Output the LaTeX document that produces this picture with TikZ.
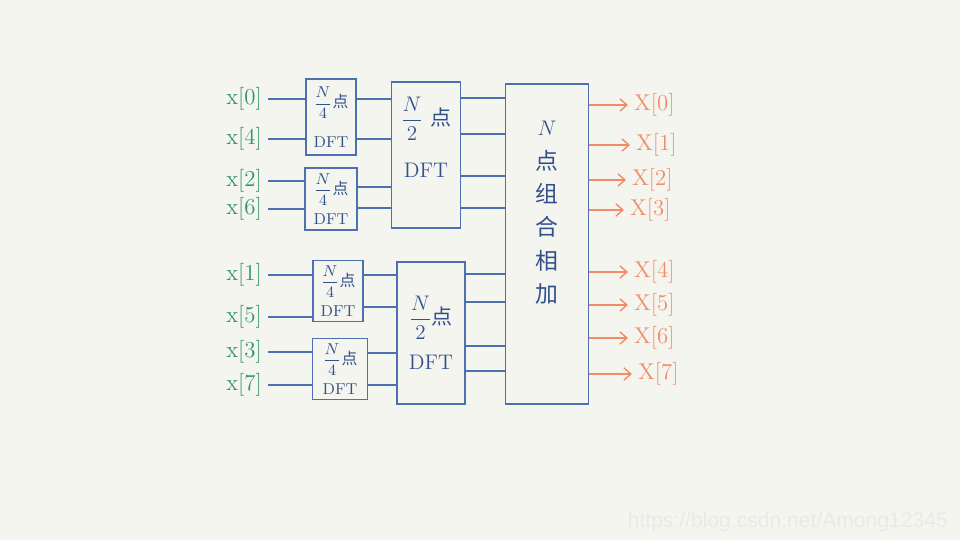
\documentclass[tikz,border=0pt]{standalone}
\usepackage{amsmath}
\usepackage{fontspec}
\newfontfamily\cjk{Noto Sans CJK SC}
\newfontfamily\wmfont{Liberation Sans}
\usepackage{xcolor}
\usetikzlibrary{positioning, arrows.meta, calc}

\definecolor{paper}{RGB}{245,245,240}
\definecolor{penblue}{RGB}{78,112,178}
\definecolor{inkblue}{RGB}{50,80,140}
\definecolor{pengreen}{RGB}{48,150,92}
\definecolor{penorange}{RGB}{240,140,104}
\definecolor{markgray}{RGB}{233,233,229}

\begin{document}
\begin{tikzpicture}[x=0.02cm, y=-0.02cm,
    box/.style={draw=penblue, line width=0.9pt, text=inkblue, align=center, inner sep=0pt},
    smallbox/.style={box, font=\fontsize{9}{10}\selectfont},
    halfbox/.style={box, font=\fontsize{12}{14}\selectfont},
    wire/.style={draw=penblue, line width=0.8pt},
    inlabel/.style={text=pengreen, anchor=east, font=\fontsize{13}{15}\selectfont},
    outlabel/.style={text=penorange, anchor=west, font=\fontsize{13}{15}\selectfont},
    outarrow/.style={draw=penorange, line width=0.8pt, -{Straight Barb[length=4pt, width=7pt]}}]

    % page and margins
    \fill[paper] (0,0) rectangle (960,540);

    % N/4-point DFTs
    \node [smallbox, minimum width=1cm, minimum height=1.52cm] (q1) at (331,117) {$\dfrac{N}{4}${\cjk 点}\\[9pt]DFT};
    \node [smallbox, minimum width=1.04cm, minimum height=1.24cm] (q2) at (331,199) {$\dfrac{N}{4}${\cjk 点}\\[4pt]DFT};
    \node [smallbox, minimum width=1cm, minimum height=1.22cm] (q3) at (338,291) {$\dfrac{N}{4}${\cjk 点}\\[4pt]DFT};
    \node [smallbox, minimum width=1.1cm, minimum height=1.22cm] (q4) at (340,369) {$\dfrac{N}{4}${\cjk 点}\\[4pt]DFT};

    % N/2-point DFTs
    \node [halfbox, minimum width=1.38cm, minimum height=2.92cm] (h1) at (426,155) {$\dfrac{N}{2}$ {\cjk 点}\\[12pt]DFT\\[6pt]\mbox{}};
    \node [halfbox, minimum width=1.36cm, minimum height=2.84cm] (h2) at (431,333) {$\dfrac{N}{2}${\cjk 点}\\[8pt]DFT};

    % N-point combine
    \node [box, minimum width=1.66cm, minimum height=6.4cm] (comb) at (547,244) {};
    \node [text=inkblue, align=center, font=\fontsize{13}{19}\selectfont, below=0.64cm of comb.north] (combtext) {$N$\\{\cjk 点}\\{\cjk 组}\\{\cjk 合}\\{\cjk 相}\\{\cjk 加}};

    % inputs
    \node [inlabel] (x0) at (268,99) {x[0]};
    \node [inlabel] (x4) at (268,139) {x[4]};
    \node [inlabel] (x2) at (268,181) {x[2]};
    \node [inlabel] (x6) at (268,209) {x[6]};
    \node [inlabel] (x1) at (268,275) {x[1]};
    \node [inlabel] (x5) at (268,317) {x[5]};
    \node [inlabel] (x3) at (268,352) {x[3]};
    \node [inlabel] (x7) at (268,385) {x[7]};
    \draw [wire] (x0.east) -- (x0.east -| q1.west);
    \draw [wire] (x4.east) -- (x4.east -| q1.west);
    \draw [wire] (x2.east) -- (x2.east -| q2.west);
    \draw [wire] (x6.east) -- (x6.east -| q2.west);
    \draw [wire] (x1.east) -- (x1.east -| q3.west);
    \draw [wire] (x5.east) -- (x5.east -| q3.west);
    \draw [wire] (x3.east) -- (x3.east -| q4.west);
    \draw [wire] (x7.east) -- (x7.east -| q4.west);

    % N/4 -> N/2
    \draw [wire] (q1.east |- x0) -- (h1.west |- x0);
    \draw [wire] (q1.east |- x4) -- (h1.west |- x4);
    \draw [wire] (q2.east |- 0,187) -- (h1.west |- 0,187);
    \draw [wire] (q2.east |- 0,208) -- (h1.west |- 0,208);
    \draw [wire] (q3.east |- x1) -- (h2.west |- x1);
    \draw [wire] (q3.east |- 0,307) -- (h2.west |- 0,307);
    \draw [wire] (q4.east |- 0,353) -- (h2.west |- 0,353);
    \draw [wire] (q4.east |- x7) -- (h2.west |- x7);

    % N/2 -> N
    \draw [wire] (h1.east |- 0,98) -- (comb.west |- 0,98);
    \draw [wire] (h1.east |- 0,134) -- (comb.west |- 0,134);
    \draw [wire] (h1.east |- 0,176) -- (comb.west |- 0,176);
    \draw [wire] (h1.east |- 0,208) -- (comb.west |- 0,208);
    \draw [wire] (h2.east |- 0,274) -- (comb.west |- 0,274);
    \draw [wire] (h2.east |- 0,302) -- (comb.west |- 0,302);
    \draw [wire] (h2.east |- 0,346) -- (comb.west |- 0,346);
    \draw [wire] (h2.east |- 0,371) -- (comb.west |- 0,371);

    % outputs
    \node [outlabel] (X0) at (628,105) {X[0]};
    \node [outlabel] (X1) at (630,145) {X[1]};
    \node [outlabel] (X2) at (626,180) {X[2]};
    \node [outlabel] (X3) at (624,210) {X[3]};
    \node [outlabel] (X4) at (628,272) {X[4]};
    \node [outlabel] (X5) at (628,305) {X[5]};
    \node [outlabel] (X6) at (628,338) {X[6]};
    \node [outlabel] (X7) at (632,374) {X[7]};
    \draw [outarrow] (comb.east |- X0) -- (X0.west);
    \draw [outarrow] (comb.east |- X1) -- (X1.west);
    \draw [outarrow] (comb.east |- X2) -- (X2.west);
    \draw [outarrow] (comb.east |- X3) -- (X3.west);
    \draw [outarrow] (comb.east |- X4) -- (X4.west);
    \draw [outarrow] (comb.east |- X5) -- (X5.west);
    \draw [outarrow] (comb.east |- X6) -- (X6.west);
    \draw [outarrow] (comb.east |- X7) -- (X7.west);

    % watermark
    \node [anchor=east, text=markgray, font=\wmfont\fontsize{12}{14}\selectfont] (mark) at (954,522) {https://blog.csdn.net/Among12345};
\end{tikzpicture}
\end{document}
